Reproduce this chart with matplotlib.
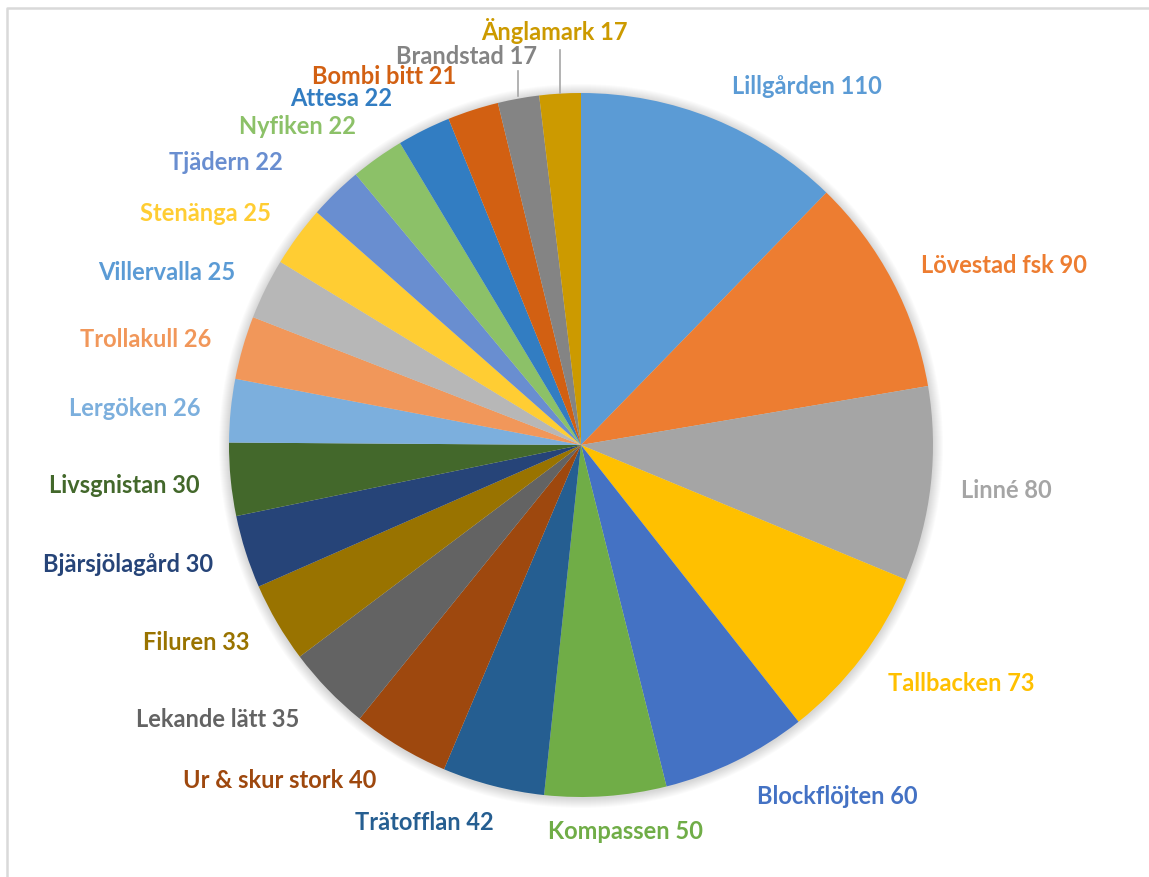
import matplotlib
matplotlib.use("Agg")
import matplotlib.pyplot as plt
from matplotlib.patches import Circle
from matplotlib.lines import Line2D

names = ["Lillgården", "Lövestad fsk", "Linné", "Tallbacken", "Blockflöjten",
         "Kompassen", "Trätofflan", "Ur & skur stork", "Lekande lätt", "Filuren",
         "Bjärsjölagård", "Livsgnistan", "Lergöken", "Trollakull", "Villervalla",
         "Stenänga", "Tjädern", "Nyfiken", "Attesa", "Bombi bitt", "Brandstad",
         "Änglamark"]
values = [110, 90, 80, 73, 60, 50, 42, 40, 35, 33, 30, 30, 26, 26, 25, 25,
          22, 22, 22, 21, 17, 17]
colors = ["#5B9BD5", "#ED7D31", "#A5A5A5", "#FFC000", "#4472C4", "#70AD47",
          "#255E91", "#9E480E", "#636363", "#997300", "#264478", "#43682B",
          "#7CAFDD", "#F1975A", "#B7B7B7", "#FFCD33", "#698ED0", "#8CC168",
          "#327DC2", "#D26012", "#848484", "#CC9A00"]
label_colors = list(colors)
label_colors[14] = "#5B9BD5"  # Villervalla label is blue in the original

# label centre positions (pixels)
label_pos = [(807, 86), (1004, 266), (1006, 491), (961, 684), (837, 797),
             (625, 832), (424, 823), (280, 781), (218, 720), (196, 643),
             (128, 565), (124, 486), (135, 409), (146, 340), (167, 273),
             (205, 214), (226, 162), (297, 127), (341, 98), (384, 76),
             (466, 56), (554, 31)]

W, H = 1149, 878
fig = plt.figure(figsize=(W / 100, H / 100), dpi=100)
ax = fig.add_axes([0, 0, 1, 1])

cx, cy, R = 581, 446, 352

# soft shadow
for i in range(10):
    ax.add_patch(Circle((cx, cy + 1), R + 10 - i, color="#000000",
                        alpha=0.014, lw=0, zorder=0))

ax.pie(values, colors=colors, startangle=-90, counterclock=True,
       center=(cx, cy), radius=R, frame=True,
       wedgeprops=dict(linewidth=0))
ax.set_xlim(0, W)
ax.set_ylim(H, 0)
ax.set_aspect("equal")
ax.axis("off")

for n, v, c, (x, y) in zip(names, values, label_colors, label_pos):
    ax.text(x, y, f"{n} {v}", color=c, fontsize=17, fontweight="bold",
            family="Lato", ha="center", va="center")

# leader lines
ax.add_line(Line2D([518, 518], [72, 97], color="#A6A6A6", lw=1.2))
ax.add_line(Line2D([560, 560], [51, 94], color="#A6A6A6", lw=1.2))

# chart frame (left and top visible)
ax.add_line(Line2D([7, 7, W + 5], [H + 5, 9, 9], color="#D9D9D9", lw=1.8))

fig.savefig("out.png", dpi=100)
